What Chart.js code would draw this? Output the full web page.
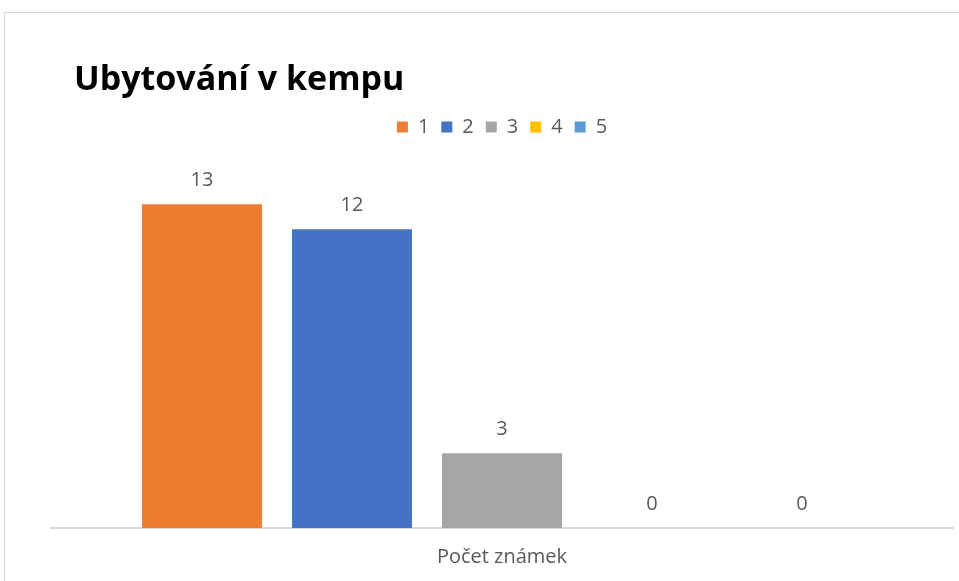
<!DOCTYPE html>
<html>
<head>
<meta charset="utf-8">
<script src="https://cdn.jsdelivr.net/npm/chart.js@4.4.1/dist/chart.umd.min.js"></script>
<style>
html, body { margin: 0; background: #fff; overflow: hidden; }
#frame { position: absolute; left: 4px; top: 12px; width: 1000px; height: 1000px; border: 1px solid #d9d9d9; box-sizing: border-box; }
#chartCanvas { position: absolute; left: 0; top: 0; }
</style>
</head>
<body>
<div id="frame"></div>
<canvas id="chartCanvas" width="959" height="581"></canvas>
<script>
let chartTitle = 'Ubytování v kempu';
let categories = ['Počet známek'];
let seriesNames = ['1', '2', '3', '4', '5'];
let seriesValues = [13, 12, 3, 0, 0];
let seriesColors = ['#ED7D31', '#4472C4', '#A5A5A5', '#FFC000', '#5B9BD5'];

let fontFamily = '"Open Sans", sans-serif';

// value labels above each bar
let valueLabels = {
    id: 'valueLabels',
    afterDatasetsDraw: function (chart) {
        let ctx = chart.ctx;
        ctx.save();
        ctx.font = '20px ' + fontFamily;
        ctx.fillStyle = '#595959';
        ctx.textAlign = 'center';
        ctx.textBaseline = 'middle';
        chart.data.datasets.forEach(function (ds, i) {
            chart.getDatasetMeta(i).data.forEach(function (bar, j) {
                ctx.fillText(ds.data[j], bar.x, bar.y - 24);
            });
        });
        ctx.restore();
    }
};

// title sits left, not aligned with the plot area
let leftTitle = {
    id: 'leftTitle',
    afterDraw: function (chart) {
        let ctx = chart.ctx;
        ctx.save();
        ctx.font = 'bold 34px ' + fontFamily;
        ctx.fillStyle = '#000000';
        ctx.textAlign = 'left';
        ctx.textBaseline = 'middle';
        ctx.fillText(chartTitle, 74, 80);
        ctx.restore();
    }
};

let barChartDraw = function () {
    let ctx = document.getElementById('chartCanvas').getContext('2d');

    let datasets = seriesNames.map(function (name, i) {
        return {
            label: name,
            data: [seriesValues[i]],
            backgroundColor: seriesColors[i],
            borderWidth: 0
        };
    });

    window.barChart = new Chart(ctx, {
        type: 'bar',
        data: { labels: categories, datasets: datasets },
        plugins: [valueLabels, leftTitle],
        options: {
            responsive: false,
            animation: false,
            categoryPercentage: 0.8315,
            barPercentage: 0.8,
            layout: { padding: { left: 51, right: 6, top: 105, bottom: 13 } },
            plugins: {
                legend: {
                    position: 'top',
                    labels: {
                        boxWidth: 11,
                        boxHeight: 11,
                        padding: 12,
                        color: '#595959',
                        font: { size: 20, family: fontFamily }
                    }
                },
                tooltip: { enabled: false }
            },
            scales: {
                x: {
                    grid: { display: false, drawTicks: false },
                    border: { color: '#d9d9d9', width: 2 },
                    ticks: { color: '#595959', padding: 17, font: { size: 20, family: fontFamily } },
                    afterFit: function (scale) { scale.height = 40; }
                },
                y: { display: false, min: 0, max: 15.3 }
            }
        }
    });
};

window.onload = function () {
    barChartDraw();
};
</script>
</body>
</html>
